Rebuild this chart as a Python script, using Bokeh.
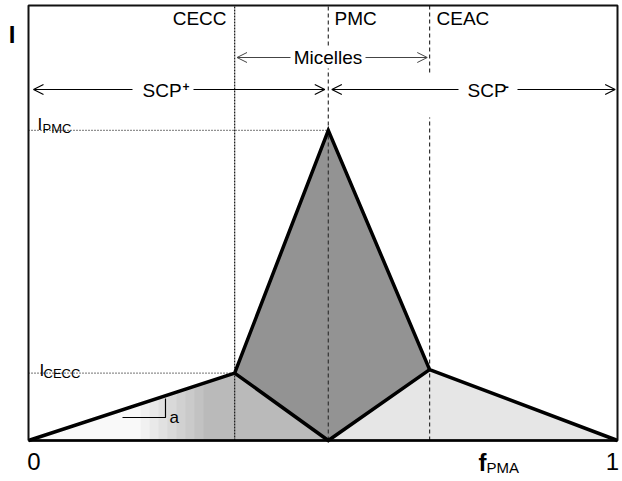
from bokeh.plotting import figure
from bokeh.models import Range1d, Arrow, OpenHead
from bokeh.core.properties import value
from bokeh.embed import file_html
from bokeh.resources import INLINE

# ---- data (fractions of the axes: f_PMA from 0 to 1, I from 0 to 1) ----
f_cecc = 0.350
f_pmc = 0.509
f_ceac = 0.681
I_cecc = 0.155
I_pmc = 0.713
I_ceac = 0.163

outer_x = [0.0, f_cecc, f_pmc, f_ceac, 1.0]
outer_y = [0.0, I_cecc, I_pmc, I_ceac, 0.0]
inner_x = [f_cecc, f_pmc, f_ceac]
inner_y = [I_cecc, 0.0, I_ceac]
crit_labels = ["CECC", "PMC", "CEAC"]

FONT = value("Liberation Sans")

# reference pixel -> data helpers (layout only)
def rx(px):
    return (px - 28) / 589.0

def ry(py):
    return (440 - py) / 435.0

W, H = 622, 481
p = figure(width=W, height=H, output_backend="svg", toolbar_location=None,
           x_axis_type=None, y_axis_type=None, min_border=0,
           x_range=Range1d(-28 / 589.0, 1 + 5 / 589.0),
           y_range=Range1d(-41 / 435.0, 1 + 5 / 435.0))
p.outline_line_color = None
p.background_fill_color = "white"
p.border_fill_color = "white"

# ---- filled regions ----
p.patch([outer_x[0], outer_x[1], inner_x[1]], [outer_y[0], outer_y[1], inner_y[1]],
        fill_color="#bababa", line_color=None)
# whitish left part of the left triangle, fading into the grey
n = 8
for k in range(n):
    xa = rx(140 + k * 9)
    ya = I_cecc * xa / f_cecc
    p.patch([0.0, xa, xa], [0.0, ya, 0.0], fill_color="white",
            fill_alpha=1.0 / (k + 1.5), line_color=None)
p.patch([inner_x[1], outer_x[3], outer_x[4]], [inner_y[1], outer_y[3], outer_y[4]],
        fill_color="#e6e6e6", line_color=None)
p.patch([outer_x[1], outer_x[2], outer_x[3], inner_x[1]],
        [outer_y[1], outer_y[2], outer_y[3], inner_y[1]],
        fill_color="#939393", line_color=None)

# ---- dotted level lines ----
p.segment(x0=[0.0, 0.0], y0=[I_pmc, I_cecc], x1=[f_pmc, f_cecc], y1=[I_pmc, I_cecc],
          line_color="#222222", line_width=1.2, line_dash="1 2")

# ---- vertical dashed lines ----
p.segment(x0=[f_cecc], y0=[0.0], x1=[f_cecc], y1=[1.0],
          line_color="#222222", line_width=1.3, line_dash="2 1")
p.segment(x0=[f_pmc, f_pmc], y0=[0.0, ry(45)], x1=[f_pmc, f_pmc], y1=[ry(68), 1.0],
          line_color="#333333", line_width=1.2, line_dash="4 3")
p.segment(x0=[f_ceac, f_ceac], y0=[0.0, ry(72)], x1=[f_ceac, f_ceac], y1=[ry(117), 1.0],
          line_color="#333333", line_width=1.2, line_dash="4 3")

# ---- thick outline lines ----
p.line(outer_x, outer_y, line_color="black", line_width=3.5, line_join="miter")
p.line(inner_x, inner_y, line_color="black", line_width=3.5, line_join="miter")

# ---- frame ----
p.line([0, 0, 1, 1, 0], [0, 1, 1, 0, 0], line_color="#111111", line_width=2)
p.line([0, 1], [0, 0], line_color="black", line_width=2.5)

# ---- arrows ----
def arrow(x0, x1, y, color="black", lw=1.2):
    p.add_layout(Arrow(end=OpenHead(size=10, line_width=lw, line_color=color),
                       x_start=x0, y_start=y, x_end=x1, y_end=y,
                       line_color=color, line_width=lw))

yy = ry(89)
arrow(rx(132), rx(33), yy)
arrow(rx(193), f_pmc - 0.006, yy)
arrow(rx(458), f_pmc + 0.006, yy)
arrow(rx(517), 1.0 - 0.004, yy)
ym = ry(57)
arrow(rx(290), f_cecc + 0.004, ym, color="#444444", lw=1.0)
arrow(rx(365), f_ceac - 0.004, ym, color="#444444", lw=1.0)

# ---- texts ----
def txt(x, y, s, size, align="left", baseline="middle", style="normal", color="black"):
    p.text(x=[x], y=[y], text=[s], text_font=FONT, text_font_size=size,
           text_align=align, text_baseline=baseline, text_font_style=style,
           text_color=color)

txt(rx(226), ry(18), crit_labels[0], "19px", align="right")
txt(rx(334), ry(18), crit_labels[1], "19px")
txt(rx(436), ry(18), crit_labels[2], "19px")
txt(rx(327.5), ym, "Micelles", "19px", align="center")

txt(rx(142), ry(89.5), "SCP", "19px")
txt(rx(182), ry(86), "+", "12px", style="bold")
txt(rx(467), ry(89.5), "SCP", "19px")
txt(rx(504), ry(86), "-", "13px", style="bold")

txt(rx(11.5), ry(33.5), "I", "24px", align="center", style="bold")

txt(rx(37), ry(124), "I", "17px", baseline="alphabetic")
txt(rx(42), ry(127.5), "PMC", "13px", baseline="alphabetic")
txt(rx(39), ry(369.5), "I", "17px", baseline="alphabetic")
txt(rx(43), ry(373), "CECC", "13px", baseline="alphabetic")

txt(rx(33.5), ry(461), "0", "24px", align="center")
txt(rx(478), ry(475), "f", "24px", baseline="bottom", style="bold")
txt(rx(486), ry(475), "PMA", "15px", baseline="bottom")
txt(rx(612), ry(461), "1", "24px", align="center")

# slope marker "a"
p.line([rx(122), rx(165), rx(165)], [ry(417), ry(417), ry(398)],
       line_color="black", line_width=1.2)
txt(rx(169), ry(417), "a", "17px", baseline="alphabetic")

open("out.html", "w").write(file_html(p, INLINE))
